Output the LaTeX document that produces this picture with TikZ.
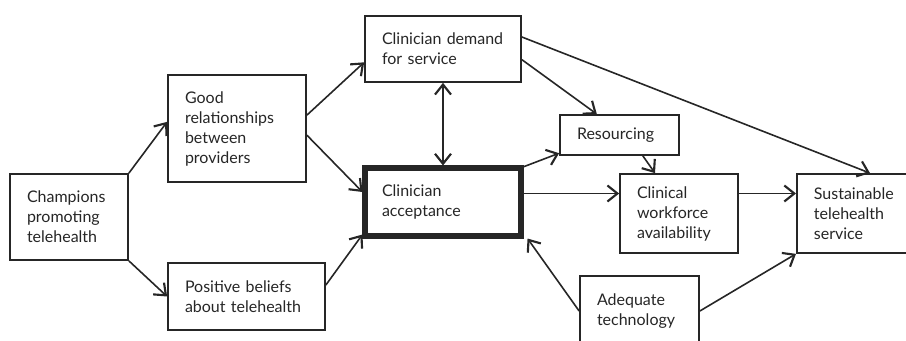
\documentclass[tikz,border=0pt]{standalone}
\usepackage{fontspec}
\setmainfont{Lato}
\usetikzlibrary{arrows.meta}

\begin{document}
\begin{tikzpicture}[
x=0.75pt, y=-0.75pt,
font=\fontsize{12}{15}\selectfont,
box/.style={draw=black!85, text=black!85, line width=1.3pt,
    inner xsep=12.75pt, inner ysep=0pt, align=left},
link/.style={->, draw=black!85, line width=1.2pt},
>={Straight Barb[length=7.5pt, width=12pt, line width=1.6pt]}
]
\useasboundingbox (0,0) rectangle (906,341);

\node[box, text width=63pt, minimum height=64.5pt] (champ) at (69,217)
    {Champions\\promoting\\telehealth};
\node[box, text width=78pt, minimum height=80.25pt] (good) at (237,128.5)
    {Good\\relationships\\between\\providers};
\node[box, text width=92.25pt, minimum height=50.25pt] (pos) at (246.5,296.5)
    {Positive beliefs\\about telehealth};
\node[box, text width=91.5pt, minimum height=49.5pt] (demand) at (443,49)
    {Clinician demand\\for service};
\node[box, text width=91.5pt, minimum height=51pt, line width=3.8pt] (accept) at (443,202)
    {Clinician\\acceptance};
\node[box, text width=63.75pt, minimum height=30pt] (res) at (619.5,135)
    {Resourcing};
\node[box, text width=63pt, minimum height=59.25pt] (clin) at (679,213.5)
    {Clinical\\workforce\\availability};
\node[box, text width=72pt, minimum height=59.25pt, anchor=west] (sust) at (796,213.5)
    {Sustainable\\telehealth\\service};
\node[box, text width=63.75pt, minimum height=52.5pt] (adeq) at (639.5,311)
    {Adequate\\technology};

\coordinate (clinin) at ([yshift=15pt]clin.west);
\coordinate (clinout) at ([yshift=15pt]clin.east);

\draw[link] (champ.north east) -- ([yshift=5pt]good.west);
\draw[link] (champ.south east) -- (pos.west);
\draw[link] ([yshift=10pt]good.east) -- ([yshift=-10pt]demand.west);
\draw[link] ([yshift=-5pt]good.east) -- ([yshift=7.5pt]accept.west);
\draw[link] ([yshift=8.6pt]pos.east) -- ([yshift=3pt]accept.south west);
\draw[link, <->] (demand.south) -- (accept.north);
\draw[link] ([yshift=9pt]demand.east) -- ([xshift=55.5pt]sust.north west);
\draw[link] ([yshift=-8pt]demand.east) -- ([xshift=-17pt]res.north);
\draw[link] ([yshift=-1pt]accept.north east) -- ([yshift=2pt]res.south west);
\draw[link] (clinin -| accept.east) -- (clinin);
\draw[link] ([xshift=17.5pt]res.south) -- ([xshift=-18pt]clin.north);
\draw[link] (clinout) -- (clinout -| sust.west);
\draw[link] (adeq.west) -- ([xshift=3pt]accept.south east);
\draw[link] (adeq.east) -- (sust.south west);
\end{tikzpicture}
\end{document}
